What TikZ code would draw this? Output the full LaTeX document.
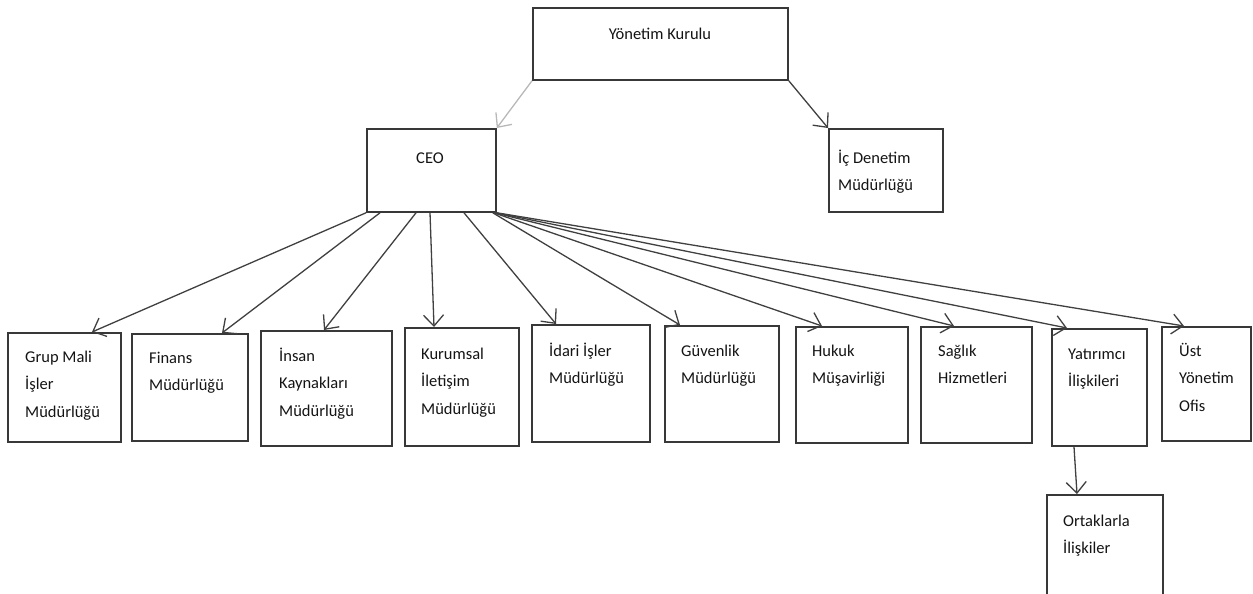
\documentclass[tikz,border=0pt]{standalone}
\usepackage{fontspec}
\setmainfont{Carlito}
\usetikzlibrary{arrows.meta,calc}
\definecolor{boxc}{gray}{0.22}
\definecolor{arrc}{gray}{0.25}
\definecolor{lightarr}{gray}{0.72}
\definecolor{txtc}{gray}{0.08}
\begin{document}
\begin{tikzpicture}[x=1pt,y=-1pt,
  box/.style={draw=boxc, line width=1.8pt, inner sep=0pt, anchor=north west},
  txt/.style={inner sep=0pt, anchor=north west, align=left, text=txtc,
    font=\fontsize{16.5}{27.5}\selectfont},
  arr/.style={draw=arrc, line width=1.3pt, -{Straight Barb[length=11pt,width=20pt]}},
  larr/.style={draw=lightarr, line width=1.3pt, -{Straight Barb[length=11pt,width=20pt]}}
]
\useasboundingbox (0,0) rectangle (1253,594);
% boxes
\node[box, minimum width=255pt, minimum height=72pt] (yk) at (532,7) {};
\node[box, minimum width=129pt, minimum height=83pt] (ceo) at (366,128) {};
\node[box, minimum width=114pt, minimum height=83pt] (ic) at (828,128) {};
\node[box, minimum width=113pt, minimum height=109pt] (gm) at (7,332) {};
\node[box, minimum width=116pt, minimum height=107pt] (fin) at (131,333) {};
\node[box, minimum width=131pt, minimum height=115pt] (ik) at (260,330) {};
\node[box, minimum width=114pt, minimum height=118pt] (kur) at (404,327) {};
\node[box, minimum width=118pt, minimum height=117pt] (ida) at (531,324) {};
\node[box, minimum width=114pt, minimum height=116pt] (guv) at (664,325) {};
\node[box, minimum width=112pt, minimum height=116pt] (huk) at (795,326) {};
\node[box, minimum width=111pt, minimum height=116pt] (sag) at (920,326) {};
\node[box, minimum width=95pt, minimum height=117pt] (yat) at (1051,328) {};
\node[box, minimum width=89pt, minimum height=114pt] (ust) at (1161,326) {};
\node[box, minimum width=116pt, minimum height=130pt] (ort) at (1046,494) {};
% texts
\node[txt, anchor=north] (ykt) at (660,20) {\strut Yönetim Kurulu};
\node[txt, anchor=north] (ceot) at (430,144) {\strut CEO};
\node[txt] (ict) at (838,144) {\strut İç Denetim\\Müdürlüğü};
\node[txt] (gmt) at (25,343) {\strut Grup Mali\\İşler\\Müdürlüğü};
\node[txt] (fint) at (149,344) {\strut Finans\\Müdürlüğü};
\node[txt] (ikt) at (279,342) {\strut İnsan\\Kaynakları\\Müdürlüğü};
\node[txt] (kurt) at (421,340) {\strut Kurumsal\\İletişim\\Müdürlüğü};
\node[txt] (idat) at (549,337) {\strut İdari İşler\\Müdürlüğü};
\node[txt] (guvt) at (681,337) {\strut Güvenlik\\Müdürlüğü};
\node[txt] (hukt) at (812,337) {\strut Hukuk\\Müşavirliği};
\node[txt] (sagt) at (938,337) {\strut Sağlık\\Hizmetleri};
\node[txt] (yatt) at (1068,340) {\strut Yatırımcı\\İlişkileri};
\node[txt] (ustt) at (1179,337) {\strut Üst\\Yönetim\\Ofis};
\node[txt] (ortt) at (1063,507) {\strut Ortaklarla\\İlişkiler};
% connectors
\draw[larr] (yk.south west) -- (ceo.north east);
\draw[arr] (yk.south east) -- (ic.north west);
\draw[arr] (ceo.south west) -- ($(gm.north west)+(85,0)$);
\draw[arr] ($(ceo.south west)+(14,0)$) -- ($(fin.north west)+(91,0)$);
\draw[arr] ($(ceo.south west)+(50,0)$) -- ($(ik.north west)+(64,0)$);
\draw[arr] ($(ceo.south west)+(64,0)$) -- ($(kur.north west)+(30,0)$);
\draw[arr] ($(ceo.south west)+(98,0)$) -- ($(ida.north west)+(25,0)$);
\draw[arr] ($(ceo.south east)+(-4,0)$) -- ($(guv.north west)+(16,0)$);
\draw[arr] ($(ceo.south east)+(-3,0)$) -- ($(huk.north west)+(27,0)$);
\draw[arr] ($(ceo.south east)+(-2,0)$) -- ($(sag.north west)+(34,0)$);
\draw[arr] ($(ceo.south east)+(-1,0)$) -- ($(yat.north west)+(16,0)$);
\draw[arr] (ceo.south east) -- ($(ust.north west)+(23,0)$);
\draw[arr] ($(yat.south west)+(23,0)$) -- ($(ort.north west)+(31,0)$);
\end{tikzpicture}
\end{document}
